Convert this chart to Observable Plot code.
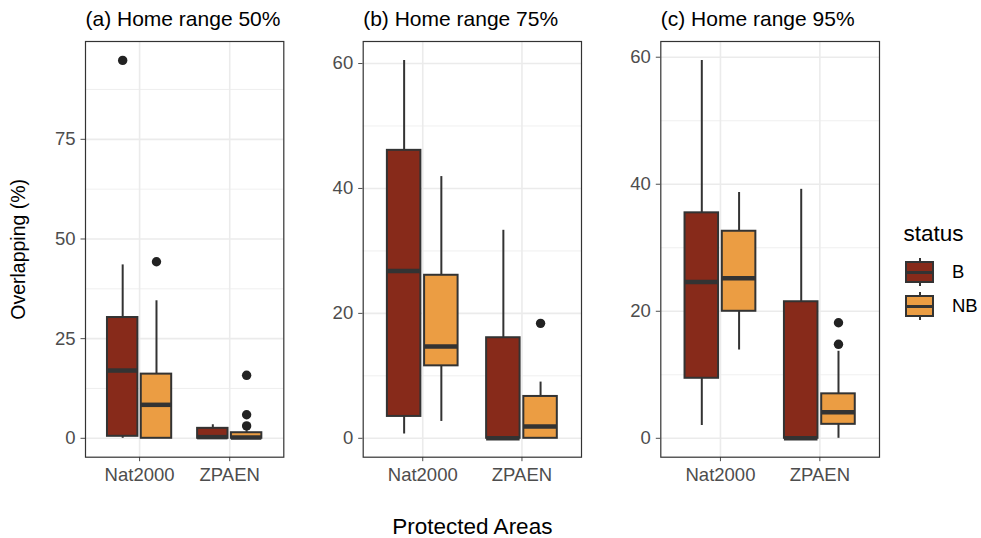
<!DOCTYPE html>
<html>
<head>
<meta charset="utf-8">
<script src="https://cdn.jsdelivr.net/npm/d3@7"></script>
<script src="https://cdn.jsdelivr.net/npm/@observablehq/plot@0.6"></script>
<style>
  body { margin: 0; background: white; }
  #chart { position: relative; width: 981px; height: 538px; background: white; }
  #chart svg { position: absolute; top: 0; }
</style>
</head>
<body>
<div id="chart"></div>
<script>
// Protected area categories and status groups
const areas = ["Nat2000", "ZPAEN"];
const statuses = ["B", "NB"];
const panelTitles = ["(a) Home range 50%", "(b) Home range 75%", "(c) Home range 95%"];

// Box summaries, in order: Nat2000-B, Nat2000-NB, ZPAEN-B, ZPAEN-NB
// Home range 50%
const lo50  = [0, 0, 0, 0];
const q1_50 = [0.5, 0, 0, 0];
const med50 = [17.0, 8.4, 0.3, 0.2];
const q3_50 = [30.3, 16.1, 2.5, 1.4];
const hi50  = [43.5, 34.5, 3.4, 1.9];
const out50 = [[94.8], [44.3], [], [15.8, 5.9, 3.1]];

// Home range 75%
const lo75  = [0.7, 2.7, 0, 0];
const q1_75 = [3.5, 11.6, 0, 0];
const med75 = [26.8, 14.7, 0, 1.9];
const q3_75 = [46.1, 26.1, 16.1, 6.7];
const hi75  = [60.5, 41.9, 33.3, 9.0];
const out75 = [[], [], [], [18.4]];

// Home range 95%
const lo95  = [2.0, 13.9, 0, 0];
const q1_95 = [9.45, 20.0, 0, 2.2];
const med95 = [24.6, 25.2, 0, 4.1];
const q3_95 = [35.5, 32.6, 21.5, 7.0];
const hi95  = [59.5, 38.7, 39.2, 13.7];
const out95 = [[], [], [], [18.2, 14.8]];

// Axis ticks (major) and minor grid lines per panel
const ticks50 = [0, 25, 50, 75];
const minor50 = [12.5, 37.5, 62.5, 87.5];
const ticks75 = [0, 20, 40, 60];
const minor75 = [10, 30, 50];
const ticks95 = [0, 20, 40, 60];
const minor95 = [10, 30, 50];

const fillColors = ["#872a1a", "#eb9d43"];
const ink = "#333333";
const font = "'Liberation Sans', Arial, Helvetica, sans-serif";

function buildRows(lo, q1, med, q3, hi) {
  const rows = [];
  areas.forEach((area, i) => {
    statuses.forEach((status, j) => {
      const k = i * 2 + j;
      rows.push({
        area, status,
        xc: i + 1 + (j === 0 ? -0.1875 : 0.1875),
        lo: lo[k], q1: q1[k], med: med[k], q3: q3[k], hi: hi[k]
      });
    });
  });
  return rows;
}

function buildOutliers(rows, outs) {
  const pts = [];
  rows.forEach((r, k) => outs[k].forEach(v => pts.push({xc: r.xc, status: r.status, v})));
  return pts;
}

function panel(cfg) {
  const rows = buildRows(cfg.lo, cfg.q1, cfg.med, cfg.q3, cfg.hi);
  const pts = buildOutliers(rows, cfg.out);
  const allVals = rows.flatMap(r => [r.lo, r.hi]).concat(pts.map(p => p.v));
  const vmin = d3.min(allVals), vmax = d3.max(allVals);
  const pad = (vmax - vmin) * 0.05;
  const half = 0.16875;

  const marks = [
    Plot.ruleY(cfg.minor, {stroke: "#ebebeb", strokeWidth: 0.8}),
    Plot.ruleY(cfg.ticks, {stroke: "#ebebeb", strokeWidth: 1.6}),
    Plot.ruleX([1, 2], {stroke: "#ebebeb", strokeWidth: 1.6}),
    Plot.ruleX(rows, {x: "xc", y1: "lo", y2: "hi", stroke: ink, strokeWidth: 2}),
    Plot.rect(rows, {x1: d => d.xc - half, x2: d => d.xc + half, y1: "q1", y2: "q3",
                     fill: "status", stroke: ink, strokeWidth: 2}),
    Plot.ruleY(rows, {y: "med", x1: d => d.xc - half, x2: d => d.xc + half,
                      stroke: ink, strokeWidth: 4.5}),
    Plot.dot(pts, {x: "xc", y: "v", r: 4.7, fill: "#222222", stroke: "none"}),
    Plot.frame({stroke: ink, strokeWidth: 1.2}),
    Plot.text([cfg.title], {frameAnchor: "top-left", dy: -16, lineAnchor: "bottom",
                            textAnchor: "start", fontSize: 21, fill: "black"})
  ];
  if (cfg.yTitle) {
    marks.push(Plot.text([cfg.yTitle], {frameAnchor: "left", dx: -60.5, rotate: -90,
      lineAnchor: "bottom", textAnchor: "middle", fontSize: 19.5, fill: "black"}));
  }
  if (cfg.xTitle) {
    marks.push(Plot.text([cfg.xTitle], {frameAnchor: "bottom", dy: 76.6,
      lineAnchor: "bottom", textAnchor: "middle", fontSize: 22.5, fill: "black"}));
  }

  const svg = Plot.plot({
    width: cfg.width,
    height: 538,
    marginLeft: cfg.marginLeft,
    marginRight: cfg.marginRight,
    marginTop: 41,
    marginBottom: 81.3,
    style: {fontFamily: font, fontSize: "18.5px", color: "#4d4d4d", background: "transparent"},
    x: {type: "linear", domain: [0.4, 2.6], ticks: [1, 2], tickFormat: v => areas[v - 1],
        tickSize: 4.5, tickPadding: 6.5, label: null},
    y: {domain: [vmin - pad, vmax + pad], ticks: cfg.ticks, tickFormat: d => String(d),
        tickSize: 4.5, tickPadding: 5.5, label: null},
    color: {domain: statuses, range: fillColors},
    marks
  });
  svg.style.left = cfg.left + "px";
  return svg;
}

function legend() {
  const svg = Plot.plot({
    width: 96, height: 120,
    margin: 0,
    style: {fontFamily: font, fontSize: "18.5px", color: "black", background: "transparent"},
    x: {type: "identity", axis: null},
    y: {type: "band", domain: statuses, range: [32.5, 116], padding: 0.42, axis: null},
    color: {domain: statuses, range: fillColors},
    marks: [
      Plot.tickX(statuses, {y: d => d, x: 34.5, stroke: ink, strokeWidth: 2, insetTop: -4, insetBottom: -4}),
      Plot.barX(statuses, {y: d => d, x1: 21, x2: 48, fill: d => d, stroke: ink, strokeWidth: 2}),
      Plot.ruleY(statuses, {y: d => d, x1: 21, x2: 48, stroke: ink, strokeWidth: 3}),
      Plot.text(statuses, {y: d => d, x: 66.5, text: d => d, textAnchor: "start", fill: "black"}),
      Plot.text(["status"], {frameAnchor: "top-left", dx: 18, dy: 25, lineAnchor: "bottom",
                             textAnchor: "start", fontSize: 22.5, fill: "black"})
    ]
  });
  svg.style.left = "885px";
  svg.style.top = "215px";
  return svg;
}

const chart = document.getElementById("chart");
chart.append(
  panel({left: 0, width: 290, marginLeft: 85, marginRight: 6.7, title: panelTitles[0],
         lo: lo50, q1: q1_50, med: med50, q3: q3_50, hi: hi50, out: out50,
         ticks: ticks50, minor: minor50, yTitle: "Overlapping (%)"}),
  panel({left: 290, width: 295, marginLeft: 72.7, marginRight: 4, title: panelTitles[1],
         lo: lo75, q1: q1_75, med: med75, q3: q3_75, hi: hi75, out: out75,
         ticks: ticks75, minor: minor75, xTitle: "Protected Areas"}),
  panel({left: 585, width: 300, marginLeft: 75.3, marginRight: 6, title: panelTitles[2],
         lo: lo95, q1: q1_95, med: med95, q3: q3_95, hi: hi95, out: out95,
         ticks: ticks95, minor: minor95}),
  legend()
);
</script>
</body>
</html>
